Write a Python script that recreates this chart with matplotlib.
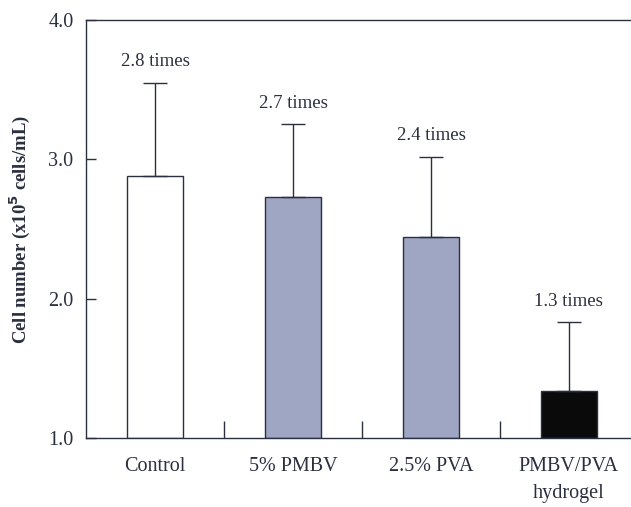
import matplotlib
matplotlib.use("Agg")
import matplotlib.pyplot as plt

categories = ["Control", "5% PMBV", "2.5% PVA", "PMBV/PVA\nhydrogel"]
means = [2.88, 2.73, 2.44, 1.34]
err_upper = [0.67, 0.52, 0.58, 0.49]
fold_labels = ["2.8 times", "2.7 times", "2.4 times", "1.3 times"]
bar_colors = ["#ffffff", "#9ea6c4", "#9ea6c4", "#0a0a0a"]
yticks = [1.0, 2.0, 3.0, 4.0]

plt.rcParams['font.family'] = ['Liberation Serif', 'DejaVu Serif']
ink = "#2b3040"

fig = plt.figure(figsize=(6.31, 5.07), dpi=100)
ax = fig.add_axes([0.1363, 0.1361, 0.8637, 0.8245])

x = list(range(len(categories)))
base = 1.0
heights = [m - base for m in means]
ax.bar(x, heights, bottom=base, width=0.4, color=bar_colors,
       edgecolor=ink, linewidth=1.0, zorder=2)
ax.errorbar(x, means, yerr=[[0]*len(x), err_upper], fmt='none',
            ecolor=ink, elinewidth=1.0, capsize=8.5, capthick=1.0, zorder=3)
for xi, m, e, lab in zip(x, means, err_upper, fold_labels):
    ax.text(xi, m + e + 0.15, lab, ha='center', va='center',
            fontsize=13.5, color=ink)

ax.set_xlim(-0.5, 3.45)
ax.set_ylim(1.0, 4.0)
ax.set_yticks(yticks)
ax.set_yticklabels([f"{v:.1f}" for v in yticks], fontsize=14.5, color=ink)
ax.tick_params(axis='y', direction='in', length=7, width=1.0, color=ink, pad=9)
ax.set_xticks(x)
ax.set_xticklabels(categories, fontsize=14.5, color=ink, linespacing=1.55)
ax.tick_params(axis='x', length=0, pad=14)
ax.set_xticks([0.5, 1.5, 2.5], minor=True)
ax.tick_params(axis='x', which='minor', direction='in', length=12, width=1.0, color=ink)

for s in ['left', 'top', 'bottom']:
    ax.spines[s].set_color(ink)
    ax.spines[s].set_linewidth(1.0)
ax.spines['right'].set_visible(False)

ax.set_ylabel("Cell number (x10$^{\\mathbf{5}}$ cells/mL)", fontsize=13.5,
              fontweight='bold', color=ink)
ax.yaxis.set_label_coords(-0.100, 0.5)

fig.savefig("out.png", dpi=100)
